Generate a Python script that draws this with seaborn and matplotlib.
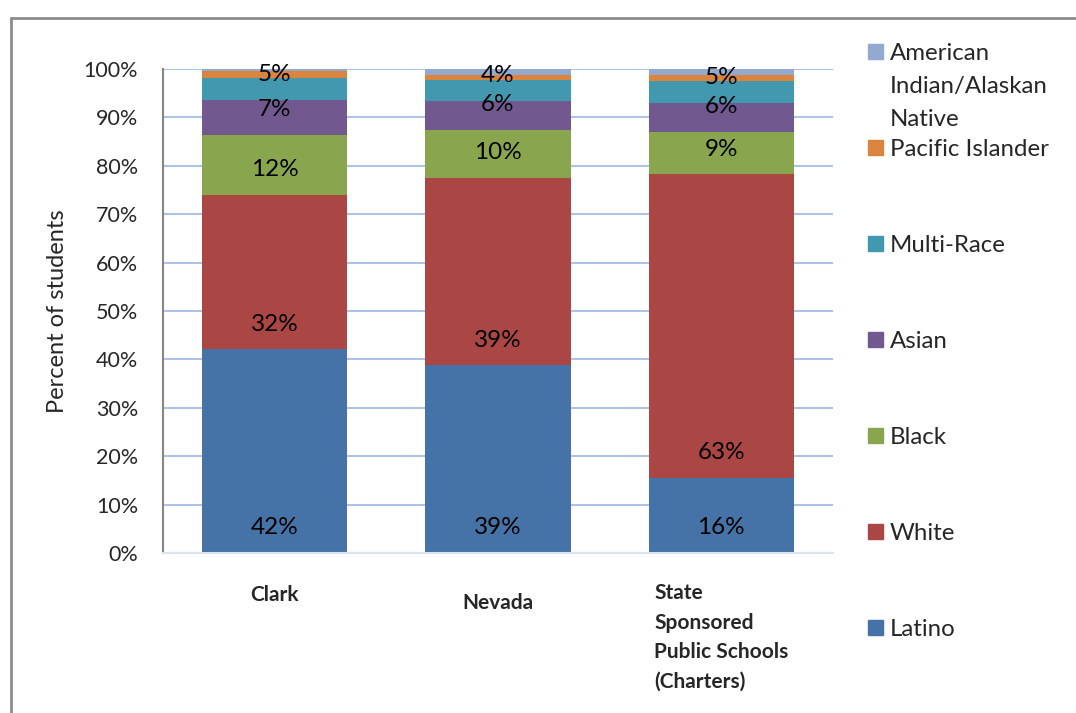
import matplotlib
matplotlib.use('Agg')
import matplotlib.pyplot as plt
import matplotlib.transforms as mtransforms
from matplotlib.lines import Line2D
from matplotlib.patches import Rectangle
import pandas as pd
import seaborn as sns

# Data (percent of students)
districts = ['Clark', 'Nevada', 'State Sponsored Public Schools (Charters)']
district_labels = ['Clark', 'Nevada', 'State\nSponsored\nPublic Schools\n(Charters)']
groups = ['Latino', 'White', 'Black', 'Asian', 'Multi-Race', 'Pacific Islander',
          'American Indian/Alaskan Native']
legend_labels = ['Latino', 'White', 'Black', 'Asian', 'Multi-Race', 'Pacific Islander',
                 'American\nIndian/Alaskan\nNative']
latino = [42.1, 38.8, 15.5]
white = [31.9, 38.7, 62.8]
black = [12.4, 9.9, 8.7]
asian = [7.2, 6.0, 6.0]
multi = [4.6, 4.4, 4.6]
pacific = [1.3, 1.0, 1.2]
amind = [0.5, 1.2, 1.2]
labeled = ['Latino', 'White', 'Black', 'Asian', 'Multi-Race']

colors = ['#4572A7', '#AA4643', '#89A54E', '#71588F', '#4198AF', '#DB843D', '#93A9CF']

sns.set_style('white')
plt.rcParams['font.family'] = ['Lato', 'DejaVu Sans']

rows = []
for g, vals in zip(groups, [latino, white, black, asian, multi, pacific, amind]):
    for d, v in zip(districts, vals):
        rows.append({'district': d, 'group': g, 'value': v})
df = pd.DataFrame(rows)
df['group'] = pd.Categorical(df['group'], categories=groups, ordered=True)
df = df.sort_values(['district', 'group'])
df['top'] = df.groupby('district')['value'].cumsum()
df['bottom'] = df['top'] - df['value']

fig = plt.figure(figsize=(10.76, 7.13), dpi=100)
ax = fig.add_axes([163 / 1076, 1 - 553 / 713, 670 / 1076, 484 / 713])

# stacked bars: draw tallest cumulative first, then cover with lower ones
for g, c in reversed(list(zip(groups, colors))):
    sub = df[df['group'] == g]
    sns.barplot(data=sub, x='district', y='top', order=districts, color=c,
                saturation=1, width=0.65, errorbar=None, ax=ax, zorder=2,
                edgecolor='none')

# value labels at inside base of each segment
for i, d in enumerate(districts):
    for g in labeled:
        r = df[(df['district'] == d) & (df['group'] == g)].iloc[0]
        ax.annotate(f"{r['value']:.0f}%", (i, r['bottom']), xytext=(0, 18),
                    textcoords='offset points', ha='center', va='center',
                    fontsize=17.5, color='black', zorder=5)

ax.set_ylim(0, 100)
ax.set_xlim(-0.5, 2.5)
ax.set_yticks(range(0, 101, 10))
ax.set_yticklabels([f'{t}%' for t in range(0, 101, 10)], fontsize=15.5)
ax.tick_params(axis='y', length=0, pad=18)
ax.tick_params(axis='x', length=0)
ax.set_xticklabels([])
ax.set_xlabel('')
ax.set_ylabel('Percent of students', fontsize=17, labelpad=11)
ax.yaxis.grid(True, color='#AFC3E6', linewidth=1.5, zorder=0)
ax.set_axisbelow(True)
for s in ['top', 'right']:
    ax.spines[s].set_visible(False)
ax.spines['left'].set_color('#868686')
ax.spines['left'].set_linewidth(1.5)
ax.spines['bottom'].set_color('#DCE4F2')
ax.spines['bottom'].set_linewidth(1.5)

# category labels under bars
trans = mtransforms.blended_transform_factory(ax.transData, ax.transAxes)
label_drop = [-0.066, -0.082, -0.062]
for i, (lab, dy) in enumerate(zip(district_labels, label_drop)):
    ax.text(i, dy, lab, transform=trans, ha='center', va='top',
            multialignment='left', fontsize=15, fontweight='bold',
            linespacing=1.6)

# legend drawn by hand: first line of each entry on an even step
W, H = 1076, 713
for k, (lab, c) in enumerate(zip(reversed(legend_labels), reversed(colors))):
    y0 = 52 + 96 * k
    fig.add_artist(Rectangle((868 / W, 1 - (y0 + 7) / H), 15 / W, 15 / H,
                             transform=fig.transFigure, color=c))
    for j, line in enumerate(lab.split('\n')):
        fig.text(890 / W, 1 - (y0 + 2 + 32.5 * j) / H, line, ha='left', va='center',
                 fontsize=17.3)

# outer chart border (open at right and bottom)
fig.add_artist(Line2D([11 / W, 11 / W], [0, 1 - 18 / H], transform=fig.transFigure,
                      color='#8C8C8C', linewidth=2))
fig.add_artist(Line2D([11 / W, 1], [1 - 18 / H, 1 - 18 / H], transform=fig.transFigure,
                      color='#8C8C8C', linewidth=2))

fig.savefig('out.png', dpi=100)
